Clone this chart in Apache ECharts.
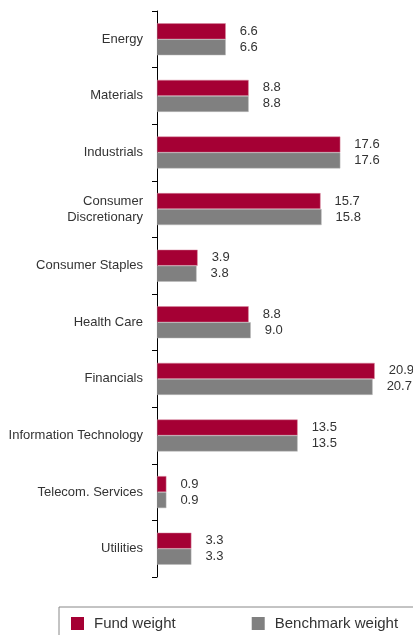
<!DOCTYPE html>
<html>
<head>
<meta charset="utf-8">
<script src="https://cdn.jsdelivr.net/npm/echarts@6/dist/echarts.min.js"></script>
<style>
  html, body { margin: 0; padding: 0; background: #fff; }
  #chart { width: 413px; height: 635px; }
</style>
</head>
<body>
<div id="chart"></div>
<script>
const sectors = ['Energy', 'Materials', 'Industrials', 'Consumer\nDiscretionary', 'Consumer Staples',
    'Health Care', 'Financials', 'Information Technology', 'Telecom. Services', 'Utilities'];
const fundWeight = [6.6, 8.8, 17.6, 15.7, 3.9, 8.8, 20.9, 13.5, 0.9, 3.3];
const benchmarkWeight = [6.6, 8.8, 17.6, 15.8, 3.8, 9.0, 20.7, 13.5, 0.9, 3.3];

const font = "'Liberation Sans', Arial, sans-serif";
const chart = echarts.init(document.getElementById('chart'));

const valueLabel = {
    show: true,
    position: 'right',
    distance: 14,
    color: '#333',
    fontSize: 13,
    fontFamily: font,
    formatter: p => p.value.toFixed(1)
};

chart.setOption({
    animation: false,
    grid: { left: 157, top: 11, width: 250, bottom: 58, outerBoundsMode: 'none', containLabel: false },
    xAxis: {
        type: 'value',
        min: 0,
        max: 24,
        show: false
    },
    yAxis: {
        type: 'category',
        inverse: true,
        data: sectors,
        axisLine: { lineStyle: { color: '#000', width: 1 } },
        axisTick: { show: true, length: 5, lineStyle: { color: '#000' } },
        axisLabel: { margin: 14, color: '#333', fontSize: 13, fontFamily: font, lineHeight: 16 }
    },
    legend: {
        left: 59,
        top: 607,
        width: 600,
        padding: [9, 40, 12, 12],
        borderColor: '#888',
        borderWidth: 1,
        itemWidth: 13,
        itemHeight: 13,
        itemGap: 76,
        icon: 'rect',
        itemStyle: { borderWidth: 0 },
        textStyle: { color: '#333', fontSize: 15, fontFamily: font, padding: [0, 0, 0, 5] },
        data: ['Fund weight', 'Benchmark weight']
    },
    series: [
        {
            name: 'Fund weight',
            type: 'bar',
            data: fundWeight,
            barWidth: 16,
            barGap: '0%',
            itemStyle: { color: '#A50034', borderColor: '#d98aa0', borderWidth: 0.5 },
            label: valueLabel
        },
        {
            name: 'Benchmark weight',
            type: 'bar',
            data: benchmarkWeight,
            barWidth: 16,
            itemStyle: { color: '#808080', borderColor: '#bbbbbb', borderWidth: 0.5 },
            label: valueLabel
        }
    ]
});
</script>
</body>
</html>
